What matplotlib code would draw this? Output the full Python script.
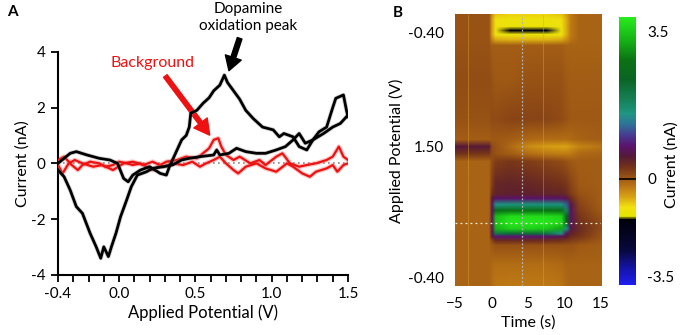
import numpy as np
import matplotlib
matplotlib.use('Agg')
import matplotlib.pyplot as plt
from matplotlib.colors import LinearSegmentedColormap, FuncNorm
from matplotlib.image import NonUniformImage

plt.rcParams['font.family'] = ['Lato', 'DejaVu Sans']

# ---- panel A: cyclic voltammograms, potential (V) vs current (nA)
da_fwd_v = [-0.40, -0.32, -0.28, -0.21, -0.13, -0.06, -0.01, 0.03, 0.06, 0.09, 0.14, 0.20, 0.27,
            0.31, 0.33, 0.36, 0.41, 0.44, 0.46, 0.47, 0.51, 0.55, 0.59, 0.62, 0.66, 0.69, 0.71,
            0.75, 0.79, 0.83, 0.88, 0.94, 1.01, 1.05, 1.08, 1.14, 1.18, 1.23, 1.27, 1.31, 1.36,
            1.40, 1.42, 1.47, 1.49, 1.50]
da_fwd_i = [0.00, 0.36, 0.42, 0.30, 0.18, 0.12, 0.00, -0.54, -0.66, -0.42, -0.24, -0.12, -0.36,
            -0.42, -0.12, 0.24, 0.84, 1.00, 1.30, 1.80, 1.90, 2.15, 2.35, 2.60, 2.80, 3.16, 2.90,
            2.60, 2.30, 1.90, 1.60, 1.30, 1.20, 0.95, 1.07, 0.95, 0.60, 0.48, 0.84, 1.13, 1.30,
            2.00, 2.33, 2.45, 1.90, 1.67]
da_rev_v = [1.50, 1.45, 1.40, 1.34, 1.27, 1.22, 1.18, 1.14, 1.09, 1.03, 0.96, 0.90, 0.83, 0.77,
            0.72, 0.66, 0.64, 0.62, 0.53, 0.46, 0.41, 0.35, 0.29, 0.22, 0.18, 0.12, 0.08, 0.05,
            0.01, -0.02, -0.05, -0.07, -0.10, -0.12, -0.15, -0.19, -0.24, -0.28, -0.32, -0.36, -0.40]
da_rev_i = [1.73, 1.43, 1.30, 1.07, 0.84, 0.72, 1.07, 0.84, 0.60, 0.48, 0.36, 0.36, 0.42, 0.54,
            0.36, 0.30, 0.48, 0.30, 0.24, 0.18, 0.12, -0.06, -0.12, -0.18, -0.30, -0.42, -0.84, -1.31,
            -1.91, -2.50, -2.99, -3.34, -2.99, -3.40, -2.99, -2.50, -1.79, -1.55, -0.96, -0.48, -0.24]
bg1_v = [-0.40, -0.36, -0.31, -0.27, -0.24, -0.19, -0.13, -0.09, -0.04, 0.00, 0.05, 0.09, 0.14,
         0.18, 0.22, 0.27, 0.31, 0.38, 0.44, 0.51, 0.55, 0.59, 0.62, 0.65, 0.67, 0.70, 0.75,
         0.79, 0.86, 0.92, 0.96, 1.03, 1.07, 1.12, 1.18, 1.23, 1.29, 1.36, 1.40, 1.44, 1.47, 1.50]
bg1_i = [0.12, 0.24, -0.06, -0.24, -0.06, 0.06, 0.00, -0.12, -0.06, 0.06, 0.00, -0.06, 0.00,
         -0.12, -0.24, -0.06, 0.06, 0.12, 0.24, 0.18, 0.36, 0.54, 0.84, 0.90, 0.60, 0.30, 0.12,
         0.24, 0.00, 0.12, -0.06, 0.24, 0.36, 0.00, -0.12, -0.06, 0.00, 0.12, 0.24, 0.60, 0.24, 0.12]
bg2_v = [-0.40, -0.37, -0.33, -0.29, -0.24, -0.17, -0.11, -0.04, 0.03, 0.09, 0.16, 0.22, 0.29,
         0.35, 0.42, 0.48, 0.53, 0.57, 0.62, 0.66, 0.70, 0.75, 0.78, 0.83, 0.90, 0.96, 1.03,
         1.10, 1.14, 1.20, 1.25, 1.29, 1.36, 1.40, 1.43, 1.47, 1.50]
bg2_i = [-0.06, -0.36, 0.00, 0.12, 0.00, -0.12, -0.06, -0.24, 0.00, 0.06, -0.06, 0.06, -0.12,
         0.00, -0.06, 0.06, -0.12, 0.00, 0.12, 0.24, 0.00, -0.24, -0.36, -0.12, 0.00, -0.18, -0.30,
         0.00, -0.12, -0.36, -0.48, -0.30, -0.18, -0.06, -0.30, -0.06, 0.00]

# ---- panel B: color plot, rows = waveform sample (0 top .. 100 bottom), cols = time (s)
cp_time = [-5, -0.4, 0.0, 0.5, 2.5, 5, 7.5, 9.5, 10.2, 10.8, 12, 15]
cp_sample = [0, 1.8, 4.4, 5.9, 7.4, 9.2, 11.4, 24, 38.7, 46.1, 48.7, 51.3, 54.2, 62.7, 66.1,
             67.9, 70.1, 72.3, 74.5, 76.8, 79.0, 80.8, 81.9, 83.4, 85.2, 92.3, 100]
cp_current = [
    [0.05, 0.05, -0.5, -0.85, -0.95, -0.95, -0.95, -0.85, -0.6, -0.3, -0.1, -0.1],
    [0.05, 0.05, -0.6, -1.0, -1.1, -1.1, -1.1, -1.0, -0.7, -0.3, -0.1, -0.1],
    [0.05, 0.05, -0.6, -1.05, -1.12, -1.15, -1.15, -1.05, -0.7, -0.3, -0.1, -0.1],
    [0.05, 0.05, -0.6, -1.1, -1.45, -1.65, -1.75, -1.2, -0.7, -0.3, -0.1, -0.1],
    [0.05, 0.05, -0.6, -1.05, -1.12, -1.15, -1.15, -1.05, -0.7, -0.3, -0.1, -0.1],
    [0.05, 0.05, -0.4, -0.7, -0.75, -0.75, -0.75, -0.7, -0.5, -0.25, -0.1, -0.1],
    [0.05, 0.05, -0.05, -0.05, -0.05, -0.05, -0.05, -0.05, -0.1, -0.1, -0.1, -0.1],
    [0.08, 0.08, 0.05, 0.0, 0.0, 0.05, 0.05, 0.05, 0.0, -0.05, -0.05, -0.05],
    [0.05, 0.05, 0.1, 0.1, 0.15, 0.15, 0.15, 0.1, 0.05, 0.0, 0.0, 0.0],
    [-0.05, -0.05, 0.0, 0.0, -0.05, -0.15, -0.2, -0.2, -0.2, -0.15, -0.1, -0.05],
    [0.55, 0.5, 0.1, 0.05, -0.15, -0.45, -0.6, -0.65, -0.65, -0.55, -0.4, -0.25],
    [0.3, 0.25, 0.1, 0.05, -0.05, -0.2, -0.3, -0.35, -0.35, -0.3, -0.15, -0.1],
    [-0.1, -0.1, 0.1, 0.2, 0.25, 0.2, 0.15, 0.1, 0.05, 0.0, -0.05, -0.05],
    [-0.1, -0.1, 0.2, 0.4, 0.42, 0.4, 0.35, 0.3, 0.25, 0.15, 0.0, -0.05],
    [-0.1, -0.1, 0.3, 0.42, 0.45, 0.45, 0.42, 0.4, 0.35, 0.2, 0.05, -0.05],
    [-0.1, -0.1, 0.55, 0.75, 0.75, 0.75, 0.75, 0.75, 0.65, 0.35, 0.1, -0.05],
    [-0.1, -0.1, 0.7, 1.5, 1.6, 1.6, 1.6, 1.6, 1.2, 0.6, 0.15, -0.05],
    [-0.1, -0.1, 0.7, 2.6, 2.8, 2.8, 2.8, 2.7, 1.8, 0.7, 0.2, 0.0],
    [-0.1, -0.1, 0.7, 3.4, 3.7, 3.7, 3.7, 3.6, 2.4, 0.7, 0.25, 0.05],
    [-0.1, -0.1, 0.7, 3.5, 3.8, 3.8, 3.8, 3.7, 2.4, 0.7, 0.3, 0.1],
    [-0.1, -0.1, 0.7, 3.3, 3.6, 3.6, 3.5, 3.2, 1.5, 0.6, 0.35, 0.1],
    [-0.1, -0.1, 0.6, 2.0, 2.2, 2.2, 2.1, 1.5, 0.7, 0.45, 0.3, 0.05],
    [-0.1, -0.1, 0.5, 0.8, 0.8, 0.8, 0.75, 0.65, 0.5, 0.35, 0.25, 0.05],
    [-0.1, -0.1, 0.15, 0.35, 0.35, 0.35, 0.35, 0.3, 0.25, 0.2, 0.15, 0.0],
    [-0.1, -0.1, 0.0, 0.05, 0.05, 0.05, 0.05, 0.05, 0.05, 0.05, 0.0, -0.05],
    [-0.1, -0.1, -0.15, -0.2, -0.2, -0.2, -0.2, -0.15, -0.1, -0.1, -0.1, -0.1],
    [-0.1, -0.1, -0.2, -0.28, -0.3, -0.3, -0.3, -0.25, -0.15, -0.1, -0.1, -0.1],
]
cp_ytick_pos = [6.3, 48.7, 97]
cp_ytick_lab = ['-0.40', '1.50', '-0.40']
cursor_time = 4.2
cursor_sample = 76.8
artifact_times = [-3.2, 7.1]

# FSCV style colormap (position along colour bar, rgb)
cmap_stops = [
    (0.00, (30, 30, 240)), (0.06, (20, 20, 170)), (0.13, (8, 8, 60)), (0.245, (0, 0, 10)),
    (0.255, (230, 230, 0)), (0.29, (240, 225, 15)), (0.33, (215, 160, 20)),
    (0.37, (185, 115, 20)), (0.395, (160, 90, 20)), (0.44, (115, 50, 25)),
    (0.48, (85, 25, 55)), (0.52, (90, 20, 110)), (0.56, (70, 60, 145)),
    (0.60, (45, 115, 150)), (0.64, (30, 150, 130)), (0.70, (20, 125, 80)),
    (0.77, (10, 100, 35)), (0.84, (10, 115, 20)), (0.91, (20, 175, 20)),
    (1.00, (40, 235, 30)),
]
fscv = LinearSegmentedColormap.from_list(
    'fscv', [(p, tuple(c / 255 for c in rgb)) for p, rgb in cmap_stops], N=512)

vmin, vmax, zpos = -3.8, 3.84, 0.396


def fwd(v):
    v = np.asarray(v, dtype=float)
    return np.where(v < 0, zpos * (v - vmin) / -vmin, zpos + (1 - zpos) * v / vmax)


def inv(f):
    f = np.asarray(f, dtype=float)
    return np.where(f < zpos, vmin + f / zpos * -vmin, (f - zpos) / (1 - zpos) * vmax)


norm = FuncNorm((fwd, inv), vmin=vmin, vmax=vmax)

fig = plt.figure(figsize=(6.8, 3.35), dpi=100)

# ---------------- panel A
ax = fig.add_axes([58 / 680, 1 - 275 / 335, 290 / 680, 223.3 / 335])
ax.axhline(0, color='#888888', lw=1.2, ls=(0, (1, 2)), zorder=1)
for v, i in [(bg1_v, bg1_i), (bg2_v, bg2_i)]:
    ax.plot(v, i, color='#ff6060', lw=3.4, alpha=0.35, zorder=2, solid_joinstyle='round')
    ax.plot(v, i, color='#ee1111', lw=1.6, zorder=3)
for v, i in [(da_fwd_v, da_fwd_i), (da_rev_v, da_rev_i)]:
    ax.plot(v, i, color='#888888', lw=3.2, alpha=0.35, zorder=4)
    ax.plot(v, i, color='black', lw=2.0, zorder=5)

ax.set_xlim(-0.4, 1.5)
ax.set_ylim(-4, 4)
ax.set_xticks([-0.4, 0.0, 0.5, 1.0, 1.5])
ax.set_xticklabels(['-0.4', '0.0', '0.5', '1.0', '1.5'])
ax.set_xticks(np.arange(-0.4, 1.51, 0.1), minor=True)
ax.set_yticks([-4, -2, 0, 2, 4])
ax.set_yticklabels(['-4', '-2', '0', '2', '4'])
ax.tick_params(axis='both', which='both', direction='out', length=5, width=1.3,
               labelsize=11, pad=4)
for s in ['top', 'right']:
    ax.spines[s].set_visible(False)
for s in ['left', 'bottom']:
    ax.spines[s].set_linewidth(1.5)
ax.set_xlabel('Applied Potential (V)', fontsize=12, labelpad=2)
ax.set_ylabel('Current (nA)', fontsize=11.5, labelpad=1)

ax.annotate('', xy=(0.72, 3.32), xytext=(0.79, 4.48), annotation_clip=False,
            arrowprops=dict(width=3.5, headwidth=12, headlength=10, color='black'))
ax.text(0.845, 5.23, 'Dopamine\noxidation peak', ha='center', va='center',
        fontsize=11, linespacing=1.25, clip_on=False)
ax.annotate('', xy=(0.594, 1.01), xytext=(0.303, 3.13),
            arrowprops=dict(width=3.2, headwidth=12, headlength=11, color='#ee1111'))
ax.text(0.222, 3.6, 'Background', ha='center', va='center', fontsize=11.5, color='#ee1111')
fig.text(12 / 680, 1 - 12 / 335, 'A', fontsize=11, fontweight='bold', ha='center', va='center')

# ---------------- panel B
bx = fig.add_axes([455 / 680, 1 - 286 / 335, 146 / 680, 271 / 335])
im = NonUniformImage(bx, interpolation='bilinear', cmap=fscv, norm=norm)
im.set_data(cp_time, cp_sample, np.array(cp_current))
bx.add_image(im)
for t in artifact_times:
    bx.axvline(t, color='#e0a030', lw=0.7, alpha=0.45)
bx.axvline(cursor_time, color='#b4b4b4', lw=0.9, ls=(0, (1.5, 1.5)))
bx.axhline(cursor_sample, color='#f0f0d0', lw=0.9, ls=(0, (1.5, 2.5)))
bx.set_xlim(-5, 15)
bx.set_ylim(100, 0)
bx.set_xticks([-5, 0, 5, 10, 15])
bx.set_yticks(cp_ytick_pos)
bx.set_yticklabels(cp_ytick_lab)
bx.tick_params(length=0, labelsize=11, pad=8)
for s in bx.spines.values():
    s.set_visible(False)
bx.set_xlabel('Time (s)', fontsize=11.5, labelpad=3)
bx.set_ylabel('Applied Potential (V)', fontsize=11.5, labelpad=3)
fig.text(398 / 680, 1 - 13 / 335, 'B', fontsize=11, fontweight='bold', ha='center', va='center')

cax = fig.add_axes([619 / 680, 1 - 285 / 335, 17 / 680, 268 / 335])
cb = fig.colorbar(im, cax=cax)
cb.outline.set_visible(False)
cb.set_ticks([-3.5, 0, 3.5])
cb.set_ticklabels(['-3.5', '0', '3.5'])
cax.tick_params(length=0, labelsize=11, pad=8)
cax.axhline(0, color='black', lw=1.2)
fig.text(672 / 680, 1 - 165 / 335, 'Current (nA)', rotation=90, fontsize=11.5,
         ha='center', va='center')

fig.savefig('out.png', dpi=100)
